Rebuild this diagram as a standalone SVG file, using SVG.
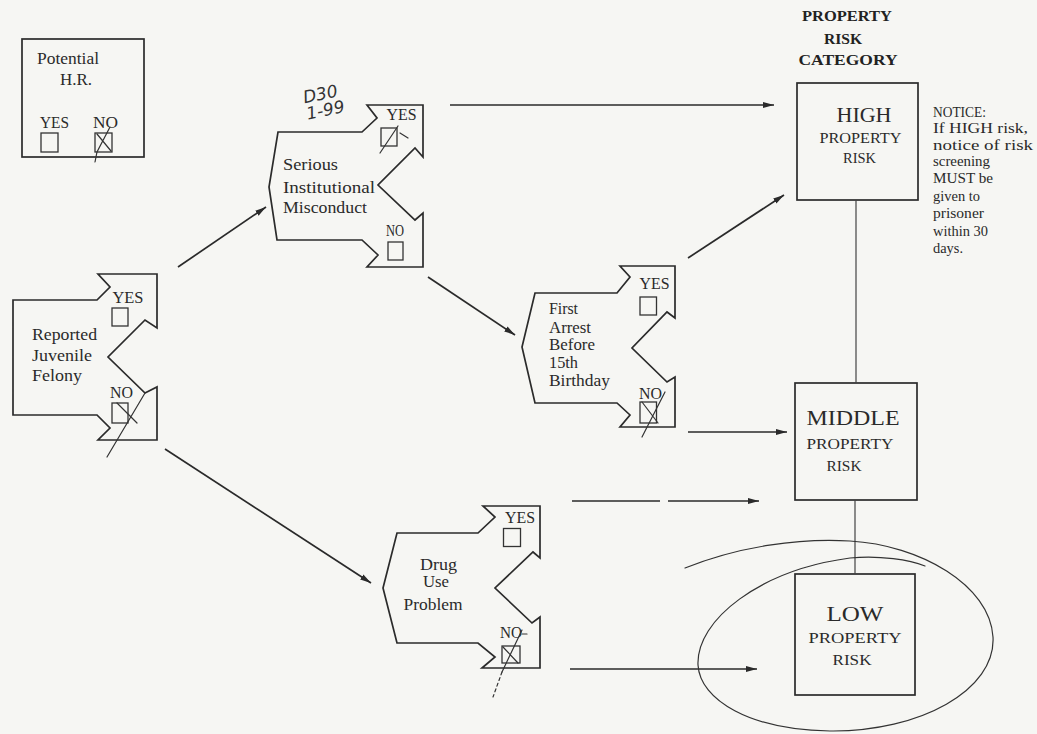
<svg xmlns="http://www.w3.org/2000/svg" width="1037" height="734" viewBox="0 0 1037 734">
<style>
.bg{fill:#f6f6f3}
.sh{fill:none;stroke:#2b2b2b;stroke-width:1.7;stroke-linejoin:miter}
.cb{fill:none;stroke:#333;stroke-width:1.3}
.t{font-family:"Liberation Serif","Times New Roman",serif;font-size:16px;fill:#2a2a2a}
.s{font-size:14px}
.big{font-size:22px}
.mid{font-size:15px}
.hd{font-family:"Liberation Serif","Times New Roman",serif;font-size:14px;font-weight:bold;fill:#222}
.c{text-anchor:middle}
.ar{fill:none;stroke:#2a2a2a;stroke-width:1.7}
.ln{fill:none;stroke:#444;stroke-width:1.2}
.hw{fill:none;stroke:#333;stroke-width:1.2;stroke-linecap:round}
.hwt{font-family:"DejaVu Sans","Liberation Sans",sans-serif;font-style:italic;font-size:17px;fill:#333}
</style>
<defs>
<marker id="ah" markerWidth="11" markerHeight="7" refX="11" refY="3.5" orient="auto" markerUnits="userSpaceOnUse">
<path d="M0,0.5 L11,3.5 L0,6.5 Z" fill="#2a2a2a"/>
</marker>
</defs>
<rect class="bg" x="0" y="0" width="1037" height="734"/>

<g id="potential-hr">
<rect class="sh" x="22" y="39" width="122" height="118"/>
<text class="t" x="37" y="64" textLength="62" lengthAdjust="spacingAndGlyphs">Potential</text>
<text class="t" x="60" y="85" textLength="32" lengthAdjust="spacingAndGlyphs">H.R.</text>
<text class="t" x="40" y="128" textLength="29" lengthAdjust="spacingAndGlyphs">YES</text>
<text class="t" x="93" y="128" textLength="25" lengthAdjust="spacingAndGlyphs">NO</text>
<rect class="cb" x="41" y="133" width="17" height="19"/>
<rect class="cb" x="95" y="133" width="17" height="19"/>
<path class="hw" d="M97,134 L111,151 M110,127 L97,152 L95,162"/>
</g>

<g id="reported-juvenile-felony">
<path class="sh" d="M13,300 L97,300 L110,287 L98,274 L157,274 L157,328 L145,320 L108,357 L145,393 L157,387 L157,440 L98,440 L110,428 L97,415 L13,415 Z"/>
<text class="t" x="112.5" y="302.5" textLength="31" lengthAdjust="spacingAndGlyphs">YES</text>
<rect class="cb" x="112" y="308" width="16" height="18"/>
<text class="t" x="32" y="340" textLength="65" lengthAdjust="spacingAndGlyphs">Reported</text>
<text class="t" x="32" y="361" textLength="60" lengthAdjust="spacingAndGlyphs">Juvenile</text>
<text class="t" x="32" y="381" textLength="50" lengthAdjust="spacingAndGlyphs">Felony</text>
<text class="t" x="110" y="398" textLength="23" lengthAdjust="spacingAndGlyphs">NO</text>
<rect class="cb" x="112" y="403" width="16" height="20"/>
<path class="hw" d="M117,403 L137,423 M145,393 L107,457"/>
</g>

<g id="serious-institutional-misconduct">
<path class="sh" d="M278,132 L362,132 L377,118 L367,105 L423,105 L423,157 L415,148 L378,185 L415,220 L423,213 L423,267 L367,267 L378,255 L362,240 L277,240 L269,187 Z"/>
<text class="t" x="386.5" y="120" textLength="30" lengthAdjust="spacingAndGlyphs">YES</text>
<rect class="cb" x="381" y="128" width="16" height="18"/>
<path class="hw" d="M380,153 L398,126 M400,133 L408,138"/>
<text class="t" x="283" y="170" textLength="55" lengthAdjust="spacingAndGlyphs">Serious</text>
<text class="t" x="283" y="193" textLength="92" lengthAdjust="spacingAndGlyphs">Institutional</text>
<text class="t" x="283" y="213" textLength="84" lengthAdjust="spacingAndGlyphs">Misconduct</text>
<text class="t" x="386" y="236" textLength="18" lengthAdjust="spacingAndGlyphs">NO</text>
<rect class="cb" x="388" y="242" width="15" height="18"/>
<text class="hwt" x="303" y="101" transform="rotate(-12 315 95)">D30</text>
<text class="hwt" x="306" y="117" transform="rotate(-12 320 110)">1-99</text>
</g>

<g id="first-arrest">
<path class="sh" d="M535,293 L617,293 L630,277 L620,266 L675,266 L675,318 L667,312 L632,348 L667,382 L675,377 L675,427 L620,427 L630,415 L617,403 L535,403 L522,347 Z"/>
<text class="t" x="639.5" y="289" textLength="30" lengthAdjust="spacingAndGlyphs">YES</text>
<rect class="cb" x="640" y="297" width="16.5" height="18"/>
<text class="t" x="549" y="314" textLength="29" lengthAdjust="spacingAndGlyphs">First</text>
<text class="t" x="549" y="333" textLength="42" lengthAdjust="spacingAndGlyphs">Arrest</text>
<text class="t" x="549" y="350" textLength="46" lengthAdjust="spacingAndGlyphs">Before</text>
<text class="t" x="549" y="368" textLength="29" lengthAdjust="spacingAndGlyphs">15th</text>
<text class="t" x="549" y="386" textLength="61" lengthAdjust="spacingAndGlyphs">Birthday</text>
<text class="t" x="639" y="399" textLength="23" lengthAdjust="spacingAndGlyphs">NO</text>
<rect class="cb" x="640" y="402" width="16.5" height="21"/>
<path class="hw" d="M665,392 L642,437 M642,402 L658,423"/>
</g>

<g id="drug-use-problem">
<path class="sh" d="M397,533 L478,533 L495,517 L483,506 L540,506 L540,558 L533,552 L495,588 L532,623 L540,617 L540,668 L482,668 L495,657 L478,643 L397,643 L383,588 Z"/>
<text class="t" x="505" y="523" textLength="30" lengthAdjust="spacingAndGlyphs">YES</text>
<rect class="cb" x="503.5" y="528.5" width="17" height="18"/>
<text class="t" x="420" y="570" textLength="37" lengthAdjust="spacingAndGlyphs">Drug</text>
<text class="t" x="423" y="587" textLength="26" lengthAdjust="spacingAndGlyphs">Use</text>
<text class="t" x="403.5" y="610" textLength="59" lengthAdjust="spacingAndGlyphs">Problem</text>
<text class="t" x="500" y="638" textLength="22" lengthAdjust="spacingAndGlyphs">NO</text>
<path class="hw" d="M522,634 L527,634"/>
<rect class="cb" x="502" y="646" width="18" height="17"/>
<path class="hw" d="M503,647 L518,663 M522,630 L502,672"/>
<path class="hw" d="M502,672 L493,697" stroke-dasharray="3,3"/>
</g>

<g id="category-header">
<text class="hd c" x="847" y="21" textLength="90" lengthAdjust="spacingAndGlyphs">PROPERTY</text>
<text class="hd c" x="843" y="44" textLength="38" lengthAdjust="spacingAndGlyphs">RISK</text>
<text class="hd c" x="848" y="65" textLength="99" lengthAdjust="spacingAndGlyphs">CATEGORY</text>
</g>

<g id="high-risk">
<rect class="sh" x="797" y="83" width="121" height="117"/>
<text class="t big c" x="864" y="122" textLength="55" lengthAdjust="spacingAndGlyphs">HIGH</text>
<text class="t mid c" x="860.5" y="143" textLength="82" lengthAdjust="spacingAndGlyphs">PROPERTY</text>
<text class="t mid c" x="859.5" y="163" textLength="33" lengthAdjust="spacingAndGlyphs">RISK</text>
</g>

<g id="notice">
<text class="t s" x="933" y="117" textLength="53" lengthAdjust="spacingAndGlyphs">NOTICE:</text>
<text class="t s" x="933" y="133" textLength="95" lengthAdjust="spacingAndGlyphs">If HIGH risk,</text>
<text class="t s" x="933" y="150" textLength="100" lengthAdjust="spacingAndGlyphs">notice of risk</text>
<text class="t s" x="933" y="166" textLength="57" lengthAdjust="spacingAndGlyphs">screening</text>
<text class="t s" x="933" y="183" textLength="60" lengthAdjust="spacingAndGlyphs">MUST be</text>
<text class="t s" x="933" y="201" textLength="47" lengthAdjust="spacingAndGlyphs">given to</text>
<text class="t s" x="933" y="218" textLength="51" lengthAdjust="spacingAndGlyphs">prisoner</text>
<text class="t s" x="933" y="236" textLength="55" lengthAdjust="spacingAndGlyphs">within 30</text>
<text class="t s" x="933" y="253" textLength="30" lengthAdjust="spacingAndGlyphs">days.</text>
</g>

<g id="middle-risk">
<rect class="sh" x="795" y="383" width="122" height="117"/>
<text class="t big c" x="853" y="425" textLength="93" lengthAdjust="spacingAndGlyphs">MIDDLE</text>
<text class="t mid c" x="850" y="449" textLength="87" lengthAdjust="spacingAndGlyphs">PROPERTY</text>
<text class="t mid c" x="844" y="471" textLength="35" lengthAdjust="spacingAndGlyphs">RISK</text>
</g>

<g id="low-risk">
<rect class="sh" x="795" y="574" width="120" height="121"/>
<text class="t big c" x="855" y="621" textLength="57" lengthAdjust="spacingAndGlyphs">LOW</text>
<text class="t mid c" x="855" y="643" textLength="93" lengthAdjust="spacingAndGlyphs">PROPERTY</text>
<text class="t mid c" x="852" y="665" textLength="39" lengthAdjust="spacingAndGlyphs">RISK</text>
</g>

<g id="connectors">
<path class="ar" d="M178,267 L266,207" marker-end="url(#ah)"/>
<path class="ar" d="M165,449 L371,583" marker-end="url(#ah)"/>
<path class="ar" d="M450,105 L774,105" marker-end="url(#ah)"/>
<path class="ar" d="M688,258 L784,195" marker-end="url(#ah)"/>
<path class="ar" d="M428,277 L515,335" marker-end="url(#ah)"/>
<path class="ar" d="M688,432 L787,432" marker-end="url(#ah)"/>
<path class="ar" d="M572,501 L660,501"/>
<path class="ar" d="M668,501 L759,501" marker-end="url(#ah)"/>
<path class="ar" d="M570,669 L757,669" marker-end="url(#ah)"/>
<path class="ln" d="M856,200 L856,383"/>
<path class="ln" d="M855,500 L855,574"/>
</g>

<path id="circled-annotation" class="hw" d="M685,568 C740,546 800,538 850,541 C920,545 990,585 993,637 C996,690 920,732 830,731 C750,730 700,700 698,665 C696,620 760,570 850,558 C880,555 910,560 925,566"/>
</svg>
